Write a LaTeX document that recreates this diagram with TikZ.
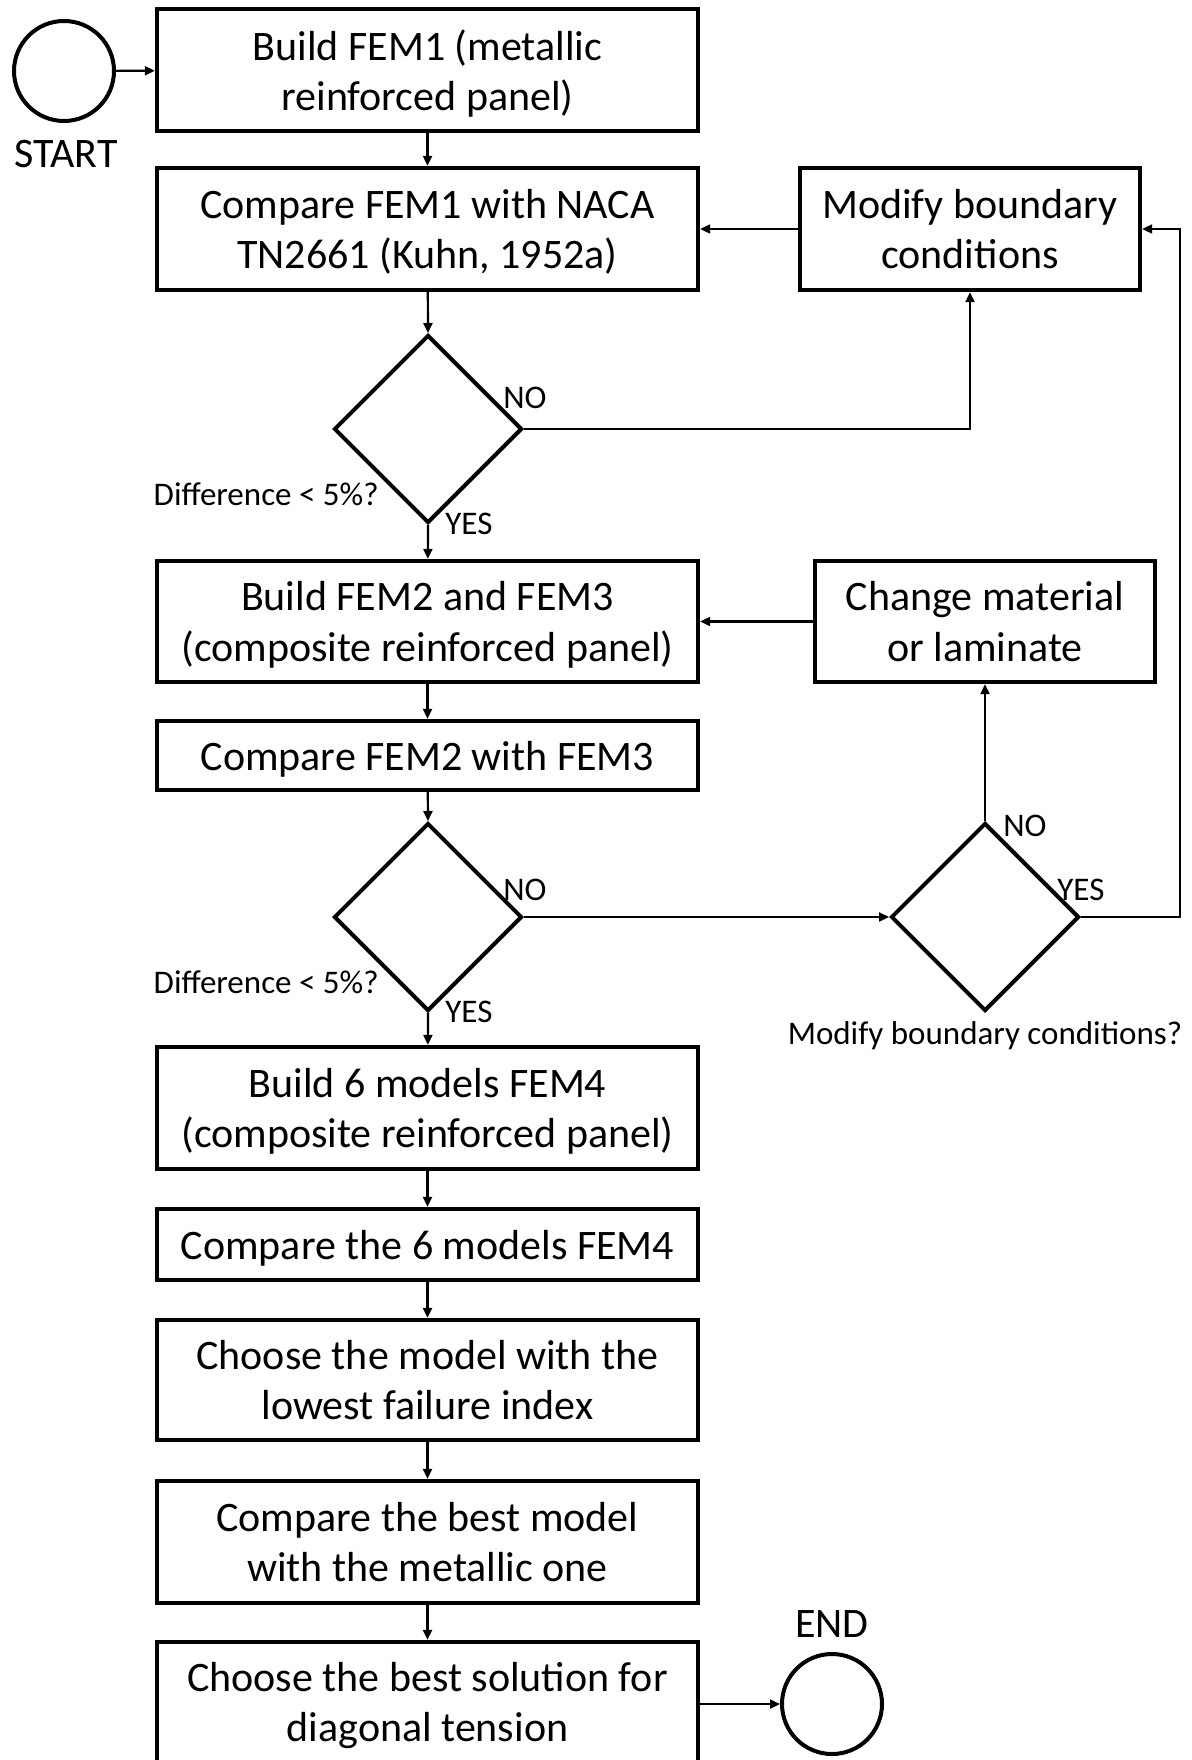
\documentclass[tikz,border=0pt]{standalone}
\usepackage{fontspec}
\setmainfont{Carlito}
\usetikzlibrary{shapes.geometric,arrows.meta}

\begin{document}
\begin{tikzpicture}[x=0.5pt, y=-0.5pt, font=\fontsize{21}{25.3}\selectfont,
  box/.style={draw,line width=2.2pt,minimum width=270.5pt,align=center,inner sep=2pt,text depth=0pt},
  decision/.style={draw,diamond,line width=2pt,minimum width=94pt,minimum height=94pt,inner sep=0pt},
  terminal/.style={draw,circle,line width=2pt,minimum size=50pt,inner sep=0pt},
  lbl/.style={font=\fontsize{16.5}{18}\selectfont,inner sep=0pt},
  flow/.style={-{Triangle[length=5pt,width=4.5pt]},line width=1.1pt}]
\useasboundingbox (0,0) rectangle (1191,1760);
\node[terminal] (start) at (64,71) {};
\node (startlbl) at (66,154) {START};
\node[box,minimum height=61pt] (fem1) at (427.5,70) {Build FEM1 (metallic\\reinforced panel)};
\node[box,minimum height=61pt] (naca) at (427.5,229) {Compare FEM1 with NACA\\TN2661 (Kuhn, 1952a)};
\node[box,minimum height=61pt,minimum width=170pt] (modbc) at (970,229) {Modify boundary\\conditions};
\node[decision] (diff1) at (428,429) {};
\node[box,minimum height=60.5pt] (fem23) at (427.5,621.5) {Build FEM2 and FEM3\\(composite reinforced panel)};
\node[box,minimum height=60.5pt,minimum width=170pt] (chmat) at (985,621.5) {Change material\\or laminate};
\node[box,minimum height=34.5pt] (cmp23) at (427.5,755.5) {Compare FEM2 with FEM3};
\node[decision] (diff2) at (428,917) {};
\node[decision] (modq) at (985,917) {};
\node[box,minimum height=61pt] (fem4) at (427.5,1108) {Build 6 models FEM4\\(composite reinforced panel)};
\node[box,minimum height=35.5pt] (cmp4) at (427.5,1244.5) {Compare the 6 models FEM4};
\node[box,minimum height=60pt] (lowfi) at (427.5,1380) {Choose the model with the\\lowest failure index};
\node[box,minimum height=61pt] (best) at (427.5,1542) {Compare the best model\\with the metallic one};
\node[box,minimum height=60pt] (final) at (427.5,1702) {Choose the best solution for\\diagonal tension};
\node[terminal] (end) at (832,1704) {};
\node (endlbl) at (832,1624) {END};
% decision labels
\node[lbl,anchor=west] (no1) at (503,398) {NO};
\node[lbl,anchor=west] (yes1) at (445,524) {YES};
\node[lbl,anchor=east] (q1) at (379,494) {Difference < 5\%?};
\node[lbl,anchor=west] (no2) at (503,890) {NO};
\node[lbl,anchor=west] (yes2) at (445,1012) {YES};
\node[lbl,anchor=east] (q2) at (379,982) {Difference < 5\%?};
\node[lbl,anchor=west] (no3) at (1003,826) {NO};
\node[lbl,anchor=west] (yes3) at (1057,890) {YES};
\node[lbl] (q3) at (985,1036) {Modify boundary conditions?};
\coordinate (rtn) at (1180,229);
% connectors
\draw[flow] (start) -- (fem1);
\draw[flow] (fem1) -- (naca);
\draw[flow] (naca) -- (diff1.north);
\draw[flow] (modbc) -- (naca);
\draw[flow] (diff1.east) -| (modbc.south);
\draw[flow] (diff1.south) -- (fem23);
\draw[flow] (chmat) -- (fem23);
\draw[flow] (fem23) -- (cmp23);
\draw[flow] (cmp23) -- (diff2.north);
\draw[flow] (diff2.east) -- (modq.west);
\draw[flow] (modq.north) -- (chmat);
\draw[flow] (modq.east) -| (rtn) -- (modbc.east);
\draw[flow] (diff2.south) -- (fem4);
\draw[flow] (fem4) -- (cmp4);
\draw[flow] (cmp4) -- (lowfi);
\draw[flow] (lowfi) -- (best);
\draw[flow] (best) -- (final);
\draw[flow] (final.east |- end) -- (end);
\end{tikzpicture}
\end{document}
